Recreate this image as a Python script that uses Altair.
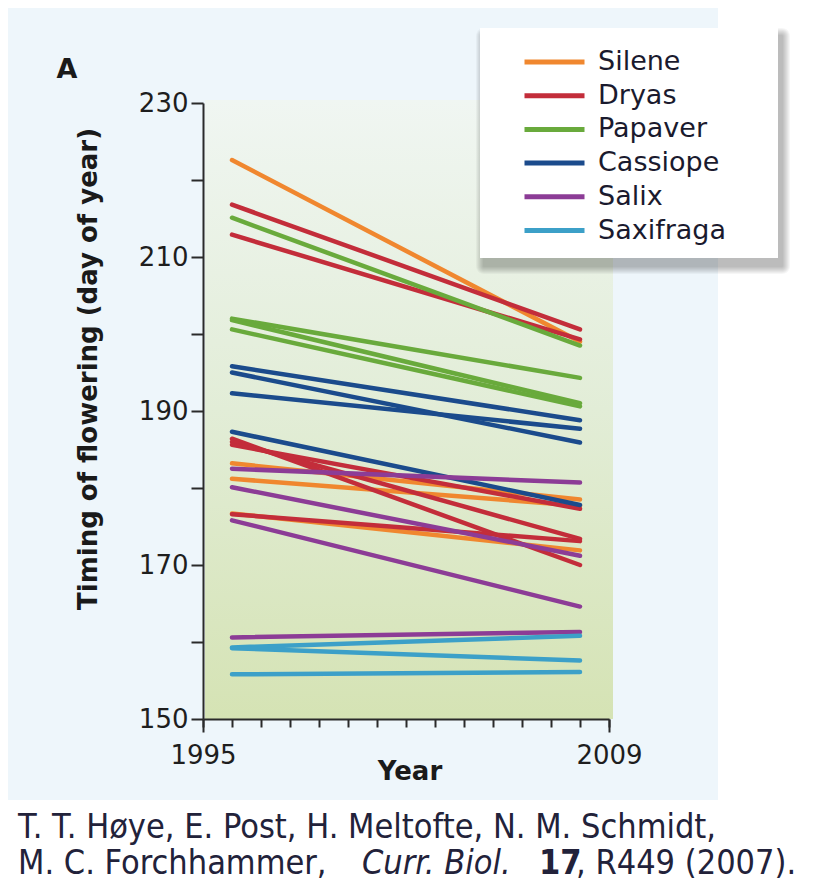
import altair as alt
import pandas as pd

# ---- data ----
species = ["Silene", "Dryas", "Papaver", "Cassiope", "Salix", "Saxifraga"]
colors = ["#f0872f", "#c32d3a", "#69aa3c", "#1b4b8c", "#8c3c96", "#3ca0c8"]
years = [1996, 2008]

silene_start = [222.6, 183.2, 181.2, 176.7]
silene_end = [199.0, 178.5, 177.7, 171.9]
dryas_start = [216.8, 212.9, 186.4, 186.0, 185.6, 176.6]
dryas_end = [200.6, 199.3, 170.0, 173.4, 177.3, 173.1]
papaver_start = [215.1, 202.0, 201.8, 200.6]
papaver_end = [198.5, 194.3, 191.0, 190.6]
cassiope_start = [195.8, 195.0, 192.3, 187.3]
cassiope_end = [188.8, 185.9, 187.7, 177.8]
salix_start = [182.5, 180.1, 175.8, 160.6]
salix_end = [180.7, 171.2, 164.6, 161.3]
saxifraga_start = [159.3, 159.2, 155.8]
saxifraga_end = [160.8, 157.6, 156.1]

x_ticks = list(range(1995, 2010))
x_major = [1995, 2009]
y_ticks = list(range(150, 231, 10))

series = [
    ("Silene", silene_start, silene_end),
    ("Dryas", dryas_start, dryas_end),
    ("Papaver", papaver_start, papaver_end),
    ("Cassiope", cassiope_start, cassiope_end),
    ("Salix", salix_start, salix_end),
    ("Saxifraga", saxifraga_start, saxifraga_end),
]
rows = []
for sp, st, en in series:
    for i, (s, e) in enumerate(zip(st, en)):
        rows.append({"species": sp, "id": f"{sp}{i}", "year": years[0], "day": s})
        rows.append({"species": sp, "id": f"{sp}{i}", "year": years[1], "day": e})
df = pd.DataFrame(rows)

W, H = 406, 616
one = alt.Data(values=[{"k": 1}])


def box(x, x2, y, y2, **kw):
    return alt.Chart(one).mark_rect(**kw).encode(
        x=alt.value(x), x2=alt.value(x2), y=alt.value(y), y2=alt.value(y2)
    )


def label(txt, x, y, size, weight="normal", style="normal", angle=0,
          align="left", baseline="alphabetic", font="DejaVu Sans", color="#1a1a1a"):
    return alt.Chart(one).mark_text(
        text=txt, font=font, fontSize=size, fontWeight=weight, fontStyle=style,
        angle=angle, align=align, baseline=baseline, color=color
    ).encode(x=alt.value(x), y=alt.value(y))


panel = box(-195, 515, -95, 697, fill="#eef6fb")
grad = alt.LinearGradient(
    gradient="linear",
    stops=[alt.GradientStop(color="#f0f6f2", offset=0),
           alt.GradientStop(color="#e2edd7", offset=0.5),
           alt.GradientStop(color="#d5e3b4", offset=1)],
    x1=0, x2=0, y1=0, y2=1,
)
plotbg = box(2, 410, -3, 616, fill=grad)

shadows = [box(277 - i + 4, 575 + i + 4, -75 - i + 8, 155 + i + 8,
               fill="black", opacity=0.035, cornerRadius=i) for i in range(1, 9)]
legbox = box(277, 575, -75, 155, fill="white")

cite_font = "'DejaVu Sans Condensed', 'Liberation Sans Narrow', Lato"
cite_col = "#22223a"

axis_style = dict(domain=True, ticks=True, labels=True, grid=False, zindex=2,
                  domainColor="#2a2a2a", domainWidth=2, tickColor="#2a2a2a", tickWidth=2,
                  labelFont="DejaVu Sans", labelFontSize=26, labelColor="#1e1e1e")

xscale = alt.Scale(domain=[1995, 2009], nice=False, zero=False)

lines = alt.Chart(df).mark_line(strokeWidth=4.5, strokeCap="round").encode(
    x=alt.X("year:Q", title=None, scale=xscale,
            axis=alt.Axis(values=x_ticks, format="d", orient="bottom",
                          labelExpr="(datum.value == 1995 || datum.value == 2009) ? datum.label : ''",
                          tickSize=8, labelPadding=15, labelBaseline="top", labelFlush=False,
                          **axis_style)),
    y=alt.Y("day:Q", title=None,
            scale=alt.Scale(domain=[150, 230], nice=False, zero=False),
            axis=alt.Axis(values=y_ticks,
                          labelExpr="datum.value % 20 == 0 ? '' : datum.label",
                          tickSize=12, labelPadding=3, **axis_style)),
    color=alt.Color("species:N", scale=alt.Scale(domain=species, range=colors),
                    legend=alt.Legend(title=None, orient="none", legendX=338, legendY=-54.5,
                                      symbolType="M-3,0H3", symbolSize=400, symbolStrokeWidth=5,
                                      symbolOpacity=1, labelFont="DejaVu Sans", labelFontSize=27,
                                      labelColor="#1a1a2e", labelOffset=30, rowPadding=5.7,
                                      padding=0)),
    detail="id:N",
)

# longer end ticks on the year axis
major = alt.Chart(pd.DataFrame({"year": x_major})).mark_point(opacity=0).encode(
    x=alt.X("year:Q", title=None, scale=xscale,
            axis=alt.Axis(values=x_major, orient="bottom", labels=False, domain=False,
                          ticks=True, grid=False, tickSize=13, tickWidth=2,
                          tickColor="#2a2a2a", zindex=2)),
    y=alt.value(H),
)

texts = [
    label("A", -136, -33, 27, weight="bold", align="center", baseline="middle"),
    label("Timing of flowering (day of year)", -114, 266, 26, weight="bold",
          angle=270, align="center", baseline="middle"),
    label("Year", 207, 669, 26, weight="bold", align="center", baseline="middle"),
    label("T. T. Høye, E. Post, H. Meltofte, N. M. Schmidt,", -185, 735, 34,
          font=cite_font, color=cite_col),
    label("M. C. Forchhammer,", -185, 771, 34, font=cite_font, color=cite_col),
    label("Curr. Biol.", 159, 771, 34, style="italic", font=cite_font, color=cite_col),
    label("17", 336, 771, 34, weight="bold", font=cite_font, color=cite_col),
    label(", R449 (2007).", 373, 771, 34, font=cite_font, color=cite_col),
]

chart = alt.layer(panel, plotbg, *shadows, legbox, lines, major, *texts).resolve_axis(
    x="independent"
).properties(
    width=W, height=H,
    autosize=alt.AutoSizeParams(type="none"),
    padding={"left": 195, "top": 95, "right": 205, "bottom": 164},
    background="white",
).configure_view(stroke=None)

chart.save("out.html", embed_options={"renderer": "svg", "actions": False})
